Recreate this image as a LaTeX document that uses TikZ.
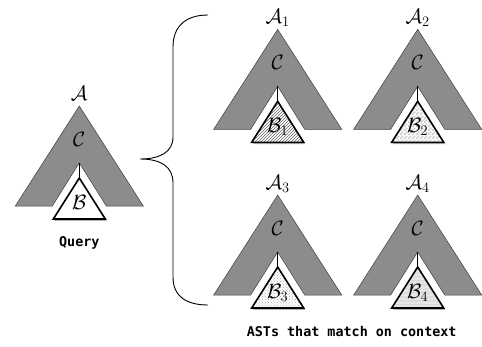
\documentclass[tikz,border=0pt]{standalone}
\usepackage{amsmath}
\usepackage{fontspec}
\setmonofont{DejaVu Sans Mono}
\usetikzlibrary{patterns}

\pgfdeclarepatternformonly{smallchecks}{\pgfpointorigin}{\pgfpoint{4pt}{4pt}}{\pgfpoint{4pt}{4pt}}{
  \pgfpathrectangle{\pgfpointorigin}{\pgfpoint{2pt}{2pt}}
  \pgfpathrectangle{\pgfpoint{2pt}{2pt}}{\pgfpoint{2pt}{2pt}}
  \pgfusepath{fill}}

\begin{document}
\begin{tikzpicture}[x=1pt,y=-1pt]

\definecolor{treegray}{gray}{0.55}
\tikzset{
  outer/.style={fill=treegray,draw=black!75,line width=0.5pt},
  inner/.style={draw=black,line width=1.6pt,line join=miter},
  shade/.style={fill=black,opacity=0.3},
  lbl/.style={font=\huge,inner sep=0pt},
  caption/.style={font=\fontsize{13.4}{16}\selectfont\ttfamily\bfseries,inner sep=0pt},
  b0/.style={},
  b1/.style={pattern=north east lines,pattern color=black!60},
  b2/.style={pattern=smallchecks,pattern color=black!22},
  b3/.style={pattern=crosshatch dots,pattern color=black!35},
  b4/.style={pattern=horizontal lines light gray}
}

\useasboundingbox (0,0) rectangle (482,346);

% one tree per apex (\x,\y): grey context, notch, inner subtree
\foreach \i/\x/\y/\s in {0/79.3/106/{},1/277.7/29.3/1,2/417.7/29.3/2,3/277.7/195/3,4/417.7/195/4}{
  \path[outer] (\x,\y) -- ++(-64,100) -- ++(37,0) -- (\x,\y+57)
    -- ++(27,43) -- ++(37,0) -- cycle;
  \draw[line width=1pt] (\x,\y+57) -- (\x,\y+72);
  \fill[shade,shift={(1.2,1.8)}] (\x,\y+72) -- ++(-26,41) -- ++(52,0) -- cycle;
  \fill[white] (\x,\y+72) -- ++(-26,41) -- ++(52,0) -- cycle;
  \draw[inner,b\i] (\x,\y+72) -- ++(-26,41) -- ++(52,0) -- cycle;
  \node[lbl] (A\i) at (\x,\y-11) {$\mathcal{A}_{\s}$};
  \node[lbl] (C\i) at (\x,\y+33) {$\mathcal{C}$};
  \node[lbl] (B\i) at (\x,\y+98) {$\mathcal{B}_{\s}$};
}

\node[caption,anchor=base] (query) at (79.3,246.5) {Query};
\node[caption,anchor=base] (asts) at (351.7,336) {ASTs that match on context};

% brace
\draw[line width=0.9pt] (208,15) .. controls (186,15) and (173,26) .. (173,47)
  -- (173,137) .. controls (173,152) and (160,159) .. (140,159)
  .. controls (160,159) and (173,166) .. (173,183)
  -- (173,277) .. controls (173,296) and (186,305) .. (208,305);

\end{tikzpicture}
\end{document}
